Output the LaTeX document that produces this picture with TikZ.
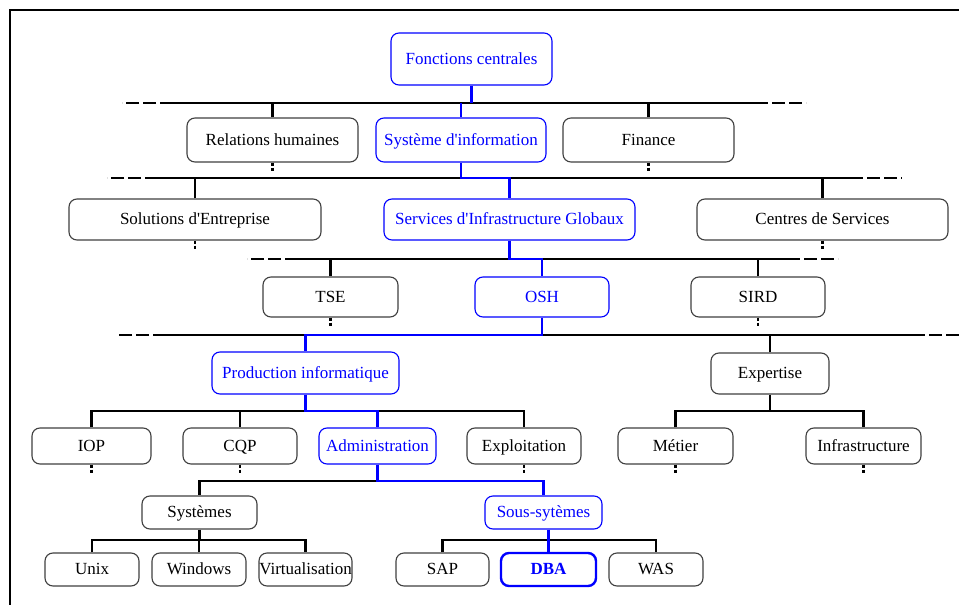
\documentclass[tikz,border=0pt]{standalone}
\usepackage{fontspec}
\setmainfont{Liberation Serif}[Ligatures=TeXOff]
\definecolor{bl}{RGB}{0,0,255}
\definecolor{bx}{RGB}{64,64,64}
\begin{document}
\begin{tikzpicture}[x=1pt,y=-1pt,
 box/.style={draw=bx,line width=1.1pt,rounded corners=8pt,inner sep=0pt,text height=12.5pt,text depth=2.5pt,font=\fontsize{17}{19}\selectfont,text=black},
 bbox/.style={box,draw=bl,text=bl},
 bus/.style={line width=2.2pt,black},
 bln/.style={line width=2.4pt,bl},
 dend/.style={line width=2.2pt,dash pattern=on 13pt off 4pt,dash phase=13pt},
 stub/.style={line width=2.2pt,dash pattern=on 3pt off 2pt},
]
\useasboundingbox (0,0) rectangle (959,605);
\fill[white] (0,0) rectangle (959,605);
\draw[line width=2.2pt] (10,606) -- (10,10) -- (960,10);

% nodes
\node[bbox,minimum width=161pt,minimum height=52pt] (fc) at (471.5,59) {Fonctions centrales};

\node[box,minimum width=171pt,minimum height=44pt] (rh) at (272.5,140) {Relations humaines};
\node[bbox,minimum width=170pt,minimum height=44pt] (si) at (461,140) {Système d'information};
\node[box,minimum width=171pt,minimum height=44pt] (fin) at (648.5,140) {Finance};

\node[box,minimum width=252pt,minimum height=41pt] (se) at (195,219.5) {Solutions d'Entreprise};
\node[bbox,minimum width=251pt,minimum height=41pt] (sig) at (509.5,219.5) {Services d'Infrastructure Globaux};
\node[box,minimum width=251pt,minimum height=41pt] (cs) at (822.5,219.5) {Centres de Services};

\node[box,minimum width=135pt,minimum height=40pt] (tse) at (330.5,297) {TSE};
\node[bbox,minimum width=134pt,minimum height=40pt] (osh) at (542,297) {OSH};
\node[box,minimum width=134pt,minimum height=40pt] (sird) at (758,297) {SIRD};

\node[bbox,minimum width=187pt,minimum height=42pt] (pi) at (305.5,373) {Production informatique};
\node[box,minimum width=118pt,minimum height=41pt] (exp) at (770,373.5) {Expertise};

\node[box,minimum width=119pt,minimum height=36pt] (iop) at (91.5,446) {IOP};
\node[box,minimum width=114pt,minimum height=36pt] (cqp) at (240,446) {CQP};
\node[bbox,minimum width=117pt,minimum height=36pt] (adm) at (377.5,446) {Administration};
\node[box,minimum width=114pt,minimum height=36pt] (expl) at (524,446) {Exploitation};
\node[box,minimum width=115pt,minimum height=36pt] (met) at (675.5,446) {Métier};
\node[box,minimum width=115pt,minimum height=36pt] (inf) at (863.5,446) {Infrastructure};

\node[box,minimum width=115pt,minimum height=33pt] (sys) at (199.5,512.5) {Systèmes};
\node[bbox,minimum width=117pt,minimum height=33pt] (ss) at (543.5,512.5) {Sous-sytèmes};

\node[box,minimum width=94pt,minimum height=33pt] (unix) at (92,569.5) {Unix};
\node[box,minimum width=94pt,minimum height=33pt] (win) at (199,569.5) {Windows};
\node[box,minimum width=93pt,minimum height=33pt] (virt) at (305.5,569.5) {Virtualisation};
\node[box,minimum width=93pt,minimum height=33pt] (sap) at (442.5,569.5) {SAP};
\node[bbox,line width=2.4pt,minimum width=95pt,minimum height=33pt,font=\fontsize{17}{19}\selectfont\bfseries] (dba) at (548.5,569.5) {DBA};
\node[box,minimum width=94pt,minimum height=33pt] (was) at (656,569.5) {WAS};

% bus coordinates
\coordinate (b1l) at (160,103); \coordinate (b1r) at (768,103);
\coordinate (b2l) at (145,178); \coordinate (b2r) at (863,178);
\coordinate (b3l) at (285,259); \coordinate (b3r) at (800,259);
\coordinate (b4l) at (153,335); \coordinate (b4r) at (925,335);
\coordinate (b5) at (0,411);
\coordinate (b6) at (0,481);
\coordinate (b7) at (0,540);

% level 1
\draw[bus] (b1l) -- (b1r);
\draw[dend] (b1l) -- ++(-38,0); \draw[dend] (b1r) -- ++(38,0);
\draw[bus] (rh.north) -- (rh.north |- b1l);
\draw[bus] (fin.north) -- (fin.north |- b1l);
\draw[bln] (fc.south) -- (fc.south |- b1l);
\draw[bln] (si.north |- b1l) -- (si.north);

% level 2
\draw[bus] (b2l) -- (b2r);
\draw[dend] (b2l) -- ++(-38,0); \draw[dend] (b2r) -- ++(39,0);
\draw[bus] (se.north) -- (se.north |- b2l);
\draw[bus] (cs.north) -- (cs.north |- b2l);
\draw[bln] (si.south) |- (sig.north |- b2l) -- (sig.north);

% level 3
\draw[bus] (b3l) -- (b3r);
\draw[dend] (b3l) -- ++(-38,0); \draw[dend] (b3r) -- ++(38,0);
\draw[bus] (tse.north) -- (tse.north |- b3l);
\draw[bus] (sird.north) -- (sird.north |- b3l);
\draw[bln] (sig.south) |- (osh.north |- b3l) -- (osh.north);

% level 4
\draw[bus] (b4l) -- (b4r);
\draw[dend] (b4l) -- ++(-37,0); \draw[dend] (b4r) -- ++(40,0);
\draw[bus] (exp.north) -- (exp.north |- b4l);
\draw[bln] (osh.south) |- (pi.north |- b4l) -- (pi.north);

% level 5
\draw[bus] (iop.north) |- (expl.north |- b5) -- (expl.north);
\draw[bus] (cqp.north) -- (cqp.north |- b5);
\draw[bln] (pi.south) |- (adm.north |- b5) -- (adm.north);
\draw[bus] (met.north) |- (inf.north |- b5) -- (inf.north);
\draw[bus] (exp.south) -- (exp.south |- b5);

% level 6
\draw[bus] (adm.south |- b6) -| (sys.north);
\draw[bln] (adm.south) |- (ss.north |- b6) -- (ss.north);

% level 7
\draw[bus] (unix.north) |- (virt.north |- b7) -- (virt.north);
\draw[bus] (sys.south) -- (sys.south |- b7);
\draw[bus] (win.north) -- (win.north |- b7);
\draw[bus] (sap.north) |- (was.north |- b7) -- (was.north);
\draw[bln] (dba.north |- ss.south) -- (dba.north);

% stubs
\foreach \n in {rh,fin,se,cs,tse,sird,iop,cqp,expl,met,inf}
  \draw[stub] (\n.south) -- ++(0,9);
\end{tikzpicture}
\end{document}
